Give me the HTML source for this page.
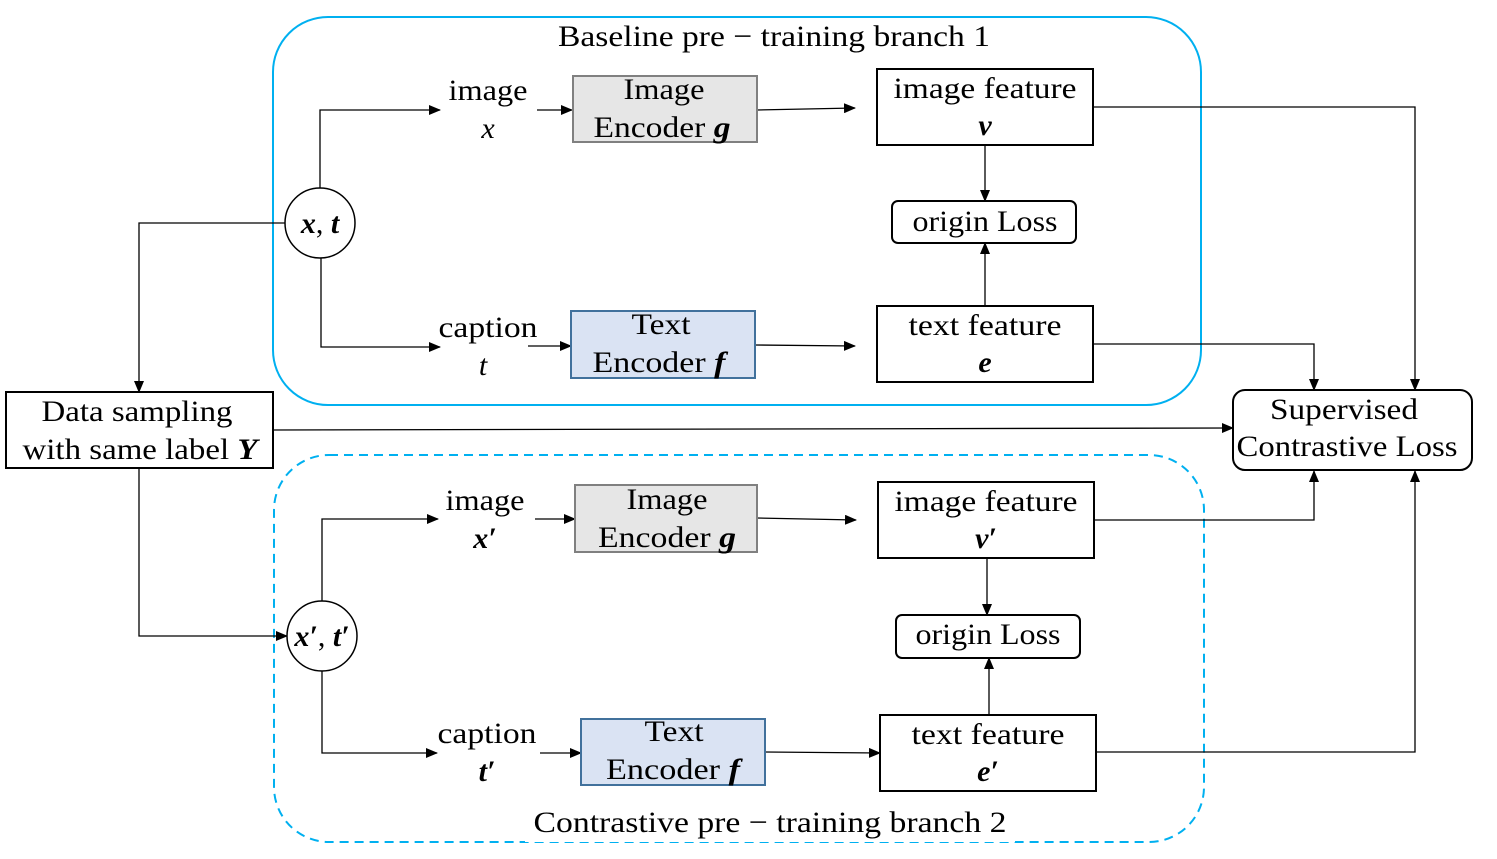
<!DOCTYPE html>
<html><head><meta charset="utf-8"><style>
html,body{margin:0;padding:0;background:#fff;}
svg{display:block;}
text{font-family:"Liberation Serif","DejaVu Serif",serif;font-size:30px;fill:#000;text-anchor:middle;}
.v{font-style:italic;font-weight:bold;}
.i{font-style:italic;}
</style></head><body>
<svg width="1497" height="859" viewBox="0 0 1497 859" xmlns="http://www.w3.org/2000/svg">
<defs>
<marker id="a" markerWidth="12" markerHeight="10" refX="11" refY="5" orient="auto" markerUnits="userSpaceOnUse">
<path d="M0,0 L12,5 L0,10 z" fill="#000"/></marker>
</defs>
<rect x="273" y="17" width="928" height="388" rx="55" fill="none" stroke="#00b0f0" stroke-width="2"/>
<rect x="274" y="455" width="930" height="387" rx="55" fill="none" stroke="#00b0f0" stroke-width="2" stroke-dasharray="9,6"/>
<rect x="550" y="18" width="446" height="36" fill="#fff"/>
<text x="774" y="46" textLength="432" lengthAdjust="spacingAndGlyphs">Baseline pre − training branch 1</text>
<rect x="525" y="806" width="490" height="36" fill="#fff"/>
<text x="770" y="832" textLength="473" lengthAdjust="spacingAndGlyphs">Contrastive pre − training branch 2</text>

<g fill="none" stroke="#000" stroke-width="1.3">
<polyline points="320,188 320,110 440,110" marker-end="url(#a)"/>
<line x1="537" y1="110" x2="572" y2="110" marker-end="url(#a)"/>
<line x1="757" y1="110" x2="855" y2="108" marker-end="url(#a)"/>
<polyline points="1093,107 1415,107 1415,390" marker-end="url(#a)"/>
<line x1="985" y1="145" x2="985" y2="201" marker-end="url(#a)"/>
<line x1="985" y1="306" x2="985" y2="243" marker-end="url(#a)"/>
<polyline points="321,258 321,347 440,347" marker-end="url(#a)"/>
<line x1="528" y1="346" x2="571" y2="346" marker-end="url(#a)"/>
<line x1="755" y1="345" x2="855" y2="346" marker-end="url(#a)"/>
<polyline points="1093,344 1314,344 1314,390" marker-end="url(#a)"/>
<polyline points="285,223 139,223 139,392" marker-end="url(#a)"/>
<line x1="273" y1="430" x2="1233" y2="428" marker-end="url(#a)"/>
<polyline points="139,468 139,636 287,636" marker-end="url(#a)"/>
<polyline points="322,601 322,519 438,519" marker-end="url(#a)"/>
<line x1="535" y1="519" x2="575" y2="519" marker-end="url(#a)"/>
<line x1="757" y1="518" x2="856" y2="520" marker-end="url(#a)"/>
<polyline points="1094,520 1314,520 1314,471" marker-end="url(#a)"/>
<line x1="987" y1="558" x2="987" y2="615" marker-end="url(#a)"/>
<line x1="989" y1="715" x2="989" y2="658" marker-end="url(#a)"/>
<polyline points="322,671 322,753 437,753" marker-end="url(#a)"/>
<line x1="540" y1="753" x2="581" y2="753" marker-end="url(#a)"/>
<line x1="765" y1="752" x2="880" y2="753" marker-end="url(#a)"/>
<polyline points="1096,752 1415,752 1415,471" marker-end="url(#a)"/>
</g>

<circle cx="320" cy="223" r="35" fill="#fff" stroke="#000" stroke-width="1.5"/>
<text x="320" y="233"><tspan class="v">x</tspan>, <tspan class="v">t</tspan></text>
<circle cx="322" cy="636" r="35" fill="#fff" stroke="#000" stroke-width="1.5"/>
<text x="322" y="646"><tspan class="v">x′</tspan>, <tspan class="v">t′</tspan></text>

<text x="488" y="100" textLength="79" lengthAdjust="spacingAndGlyphs">image</text><text x="488" y="138" class="i">x</text>
<text x="488" y="337" textLength="99" lengthAdjust="spacingAndGlyphs">caption</text><text x="483" y="375" class="i">t</text>
<text x="485" y="510" textLength="79" lengthAdjust="spacingAndGlyphs">image</text><text x="485" y="548" class="v">x′</text>
<text x="487" y="743" textLength="99" lengthAdjust="spacingAndGlyphs">caption</text><text x="487" y="781" class="v">t′</text>

<g stroke-width="2">
<rect x="573" y="76" width="184" height="66" fill="#e6e6e6" stroke="#808080"/>
<rect x="571" y="311" width="184" height="67" fill="#dae3f3" stroke="#41719c"/>
<rect x="575" y="485" width="182" height="67" fill="#e6e6e6" stroke="#808080"/>
<rect x="581" y="719" width="184" height="66" fill="#dae3f3" stroke="#41719c"/>
<rect x="877" y="69" width="216" height="76" fill="#fff" stroke="#000"/>
<rect x="892" y="201" width="184" height="42" rx="6" fill="#fff" stroke="#000"/>
<rect x="877" y="306" width="216" height="76" fill="#fff" stroke="#000"/>
<rect x="878" y="482" width="216" height="76" fill="#fff" stroke="#000"/>
<rect x="896" y="615" width="184" height="43" rx="6" fill="#fff" stroke="#000"/>
<rect x="880" y="715" width="216" height="76" fill="#fff" stroke="#000"/>
<rect x="6" y="392" width="267" height="76" fill="#fff" stroke="#000"/>
<rect x="1233" y="390" width="239" height="80" rx="12" fill="#fff" stroke="#000"/>
</g>

<text x="664" y="99" textLength="81" lengthAdjust="spacingAndGlyphs">Image</text><text x="662" y="137" textLength="137" lengthAdjust="spacingAndGlyphs">Encoder <tspan class="v">g</tspan></text>
<text x="661" y="334" textLength="59" lengthAdjust="spacingAndGlyphs">Text</text><text x="659" y="372" textLength="133" lengthAdjust="spacingAndGlyphs">Encoder <tspan class="v">f</tspan></text>
<text x="667" y="509" textLength="81" lengthAdjust="spacingAndGlyphs">Image</text><text x="667" y="547" textLength="138" lengthAdjust="spacingAndGlyphs">Encoder <tspan class="v">g</tspan></text>
<text x="674" y="741" textLength="59" lengthAdjust="spacingAndGlyphs">Text</text><text x="673" y="779" textLength="134" lengthAdjust="spacingAndGlyphs">Encoder <tspan class="v">f</tspan></text>

<text x="985" y="98" textLength="183" lengthAdjust="spacingAndGlyphs">image feature</text><text x="985" y="135" class="v">v</text>
<text x="985" y="231" textLength="145" lengthAdjust="spacingAndGlyphs">origin Loss</text>
<text x="985" y="335" textLength="153" lengthAdjust="spacingAndGlyphs">text feature</text><text x="985" y="372" class="v">e</text>
<text x="986" y="511" textLength="183" lengthAdjust="spacingAndGlyphs">image feature</text><text x="986" y="548" class="v">v′</text>
<text x="988" y="644" textLength="145" lengthAdjust="spacingAndGlyphs">origin Loss</text>
<text x="988" y="744" textLength="153" lengthAdjust="spacingAndGlyphs">text feature</text><text x="988" y="781" class="v">e′</text>
<text x="137" y="421" textLength="191" lengthAdjust="spacingAndGlyphs">Data sampling</text><text x="140" y="459" textLength="235" lengthAdjust="spacingAndGlyphs">with same label <tspan class="v">Y</tspan></text>
<text x="1344" y="419" textLength="148" lengthAdjust="spacingAndGlyphs">Supervised</text><text x="1347" y="456" textLength="221" lengthAdjust="spacingAndGlyphs">Contrastive Loss</text>
</svg>
</body></html>
